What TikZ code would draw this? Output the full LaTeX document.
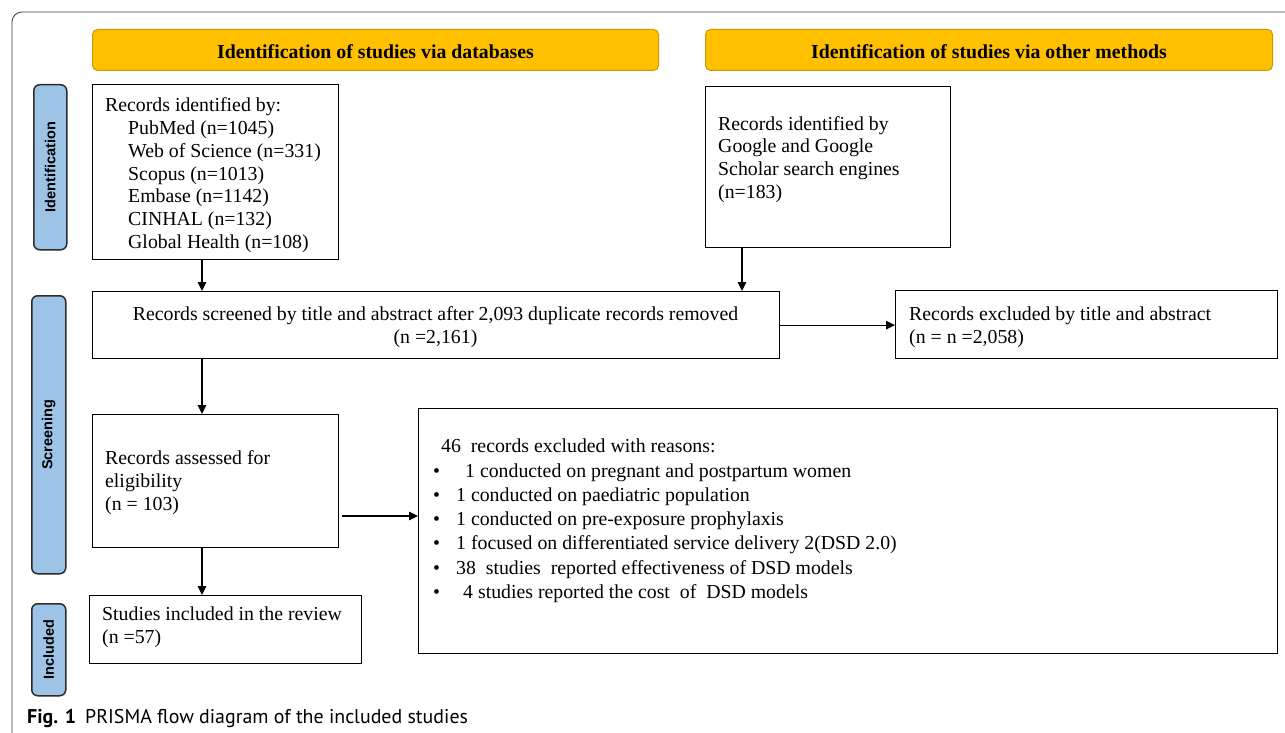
\documentclass[tikz,border=0pt]{standalone}
\usepackage{fontspec}
\setmainfont{Liberation Serif}
\newfontfamily\sidefont{Liberation Sans}
\newfontfamily\capfont{PT Sans}
\usetikzlibrary{arrows.meta}
\definecolor{hdrfill}{HTML}{FFC000}
\definecolor{hdrborder}{HTML}{C99A06}
\definecolor{sidefill}{HTML}{9DC3E6}
\definecolor{sideborder}{HTML}{2B2B2B}
\newcommand\blt{\makebox[23pt][l]{\textbullet}}
\begin{document}
\begin{tikzpicture}[x=1pt,y=-1pt,
  box/.style={draw=black, line width=1.2pt, anchor=north west, inner sep=0pt},
  txt/.style={inner sep=0pt, align=left, anchor=base west, font=\fontsize{19.8}{22.8}\selectfont},
  hdr/.style={draw=hdrborder, fill=hdrfill, rounded corners=5pt, line width=1pt, anchor=north west, inner sep=0pt},
  hdrtxt/.style={font=\bfseries\fontsize{19.8}{22.8}\selectfont, inner sep=0pt},
  side/.style={draw=sideborder, fill=sidefill, rounded corners=6pt, line width=1.5pt, anchor=north west, inner sep=0pt},
  sidetxt/.style={rotate=90, font=\sidefont\bfseries\fontsize{14.5}{16}\selectfont, inner sep=0pt},
  arr/.style={-{Triangle[length=9pt,width=8.5pt]}, line width=1.1pt}]
\useasboundingbox (0,0) rectangle (1285,733);
\fill[white] (0,0) rectangle (1285,733);
% outer frame
\draw[line width=0.8pt, black!75, rounded corners=10pt] (12,733) -- (12,12) -- (1285,12);
% headers
\node[hdr, minimum width=566pt, minimum height=41pt] (h1) at (92,29) {};
\node[hdrtxt] (h1t) at ([yshift=-1.5pt]h1.center) {Identification of studies via databases};
\node[hdr, minimum width=567pt, minimum height=41pt] (h2) at (705,29) {};
\node[hdrtxt] (h2t) at ([yshift=-1.5pt]h2.center) {Identification of studies via other methods};
% side labels
\node[side, minimum width=33pt, minimum height=165pt] (s1) at (33,84) {};
\node[sidetxt] (s1t) at (s1) {Identification};
\node[side, minimum width=34pt, minimum height=278pt] (s2) at (31,295) {};
\node[sidetxt] (s2t) at (s2) {Screening};
\node[side, minimum width=34pt, minimum height=92pt] (s3) at (31,603) {};
\node[sidetxt] (s3t) at (s3) {Included};
% boxes
\node[box, minimum width=246pt, minimum height=175pt] (b1) at (92,84) {};
\node[txt] (b1t) at (105,248.5) {Records identified by:\\
\hspace{23pt}PubMed (n=1045)\\
\hspace{23pt}Web of Science (n=331)\\
\hspace{23pt}Scopus (n=1013)\\
\hspace{23pt}Embase (n=1142)\\
\hspace{23pt}CINHAL (n=132)\\
\hspace{23pt}Global Health (n=108)};
\node[box, minimum width=245pt, minimum height=161pt] (b2) at (705,86) {};
\node[txt] (b2t) at (718,198.5) {Records identified by\\Google and Google\\Scholar search engines\\(n=183)};
\node[box, minimum width=687pt, minimum height=67pt] (b3) at (92,291) {};
\node[txt, align=center, anchor=base] (b3t) at (435.5,343.5) {Records screened by title and abstract after 2,093 duplicate records removed\\(n =2,161)};
\node[box, minimum width=382pt, minimum height=68pt] (b4) at (895,290) {};
\node[txt] (b4t) at (909,343.5) {Records excluded by title and abstract\\(n = n =2,058)};
\node[box, minimum width=246pt, minimum height=133pt] (b5) at (92,414) {};
\node[txt] (b5t) at (105,510.5) {Records assessed for\\eligibility\\(n = 103)};
\node[box, minimum width=859pt, minimum height=245pt] (b6) at (418,408) {};
\node[txt, font=\fontsize{19.8}{24.3}\selectfont] (b6t) at (433,598.5) {\hspace{8pt}46\ \ records excluded with reasons:\\
\blt\hspace{9pt}1 conducted on pregnant and postpartum women\\
\blt 1 conducted on paediatric population\\
\blt 1 conducted on pre-exposure prophylaxis\\
\blt 1 focused on differentiated service delivery 2(DSD 2.0)\\
\blt 38\ \ studies\ \ reported effectiveness of DSD models\\
\blt\hspace{7pt}4 studies reported the cost\ \ of\ \ DSD models};
\node[box, minimum width=272pt, minimum height=68pt] (b7) at (89,595) {};
\node[txt] (b7t) at (102,643.5) {Studies included in the review\\(n =57)};
% connectors
\coordinate (colA) at (202,0);
\coordinate (colB) at (742,0);
\coordinate (c56) at (342,516);
\draw[arr] (b1.south -| colA) -- (b3.north -| colA);
\draw[arr] (b2.south -| colB) -- (b3.north -| colB);
\draw[arr] (b3.east) -- (b3.east -| b4.west);
\draw[arr] (b3.south -| colA) -- (b5.north -| colA);
\draw[arr] (c56) -- (c56 -| b6.west);
\draw[arr] (b5.south -| colA) -- (b7.north -| colA);
% caption
\node[anchor=base west, inner sep=0pt, font=\capfont\fontsize{19.9}{22}\selectfont] (cap) at (27,723) {\textbf{Fig. 1}\hspace{9pt}PRISMA flow diagram of the included studies};
\end{tikzpicture}
\end{document}
